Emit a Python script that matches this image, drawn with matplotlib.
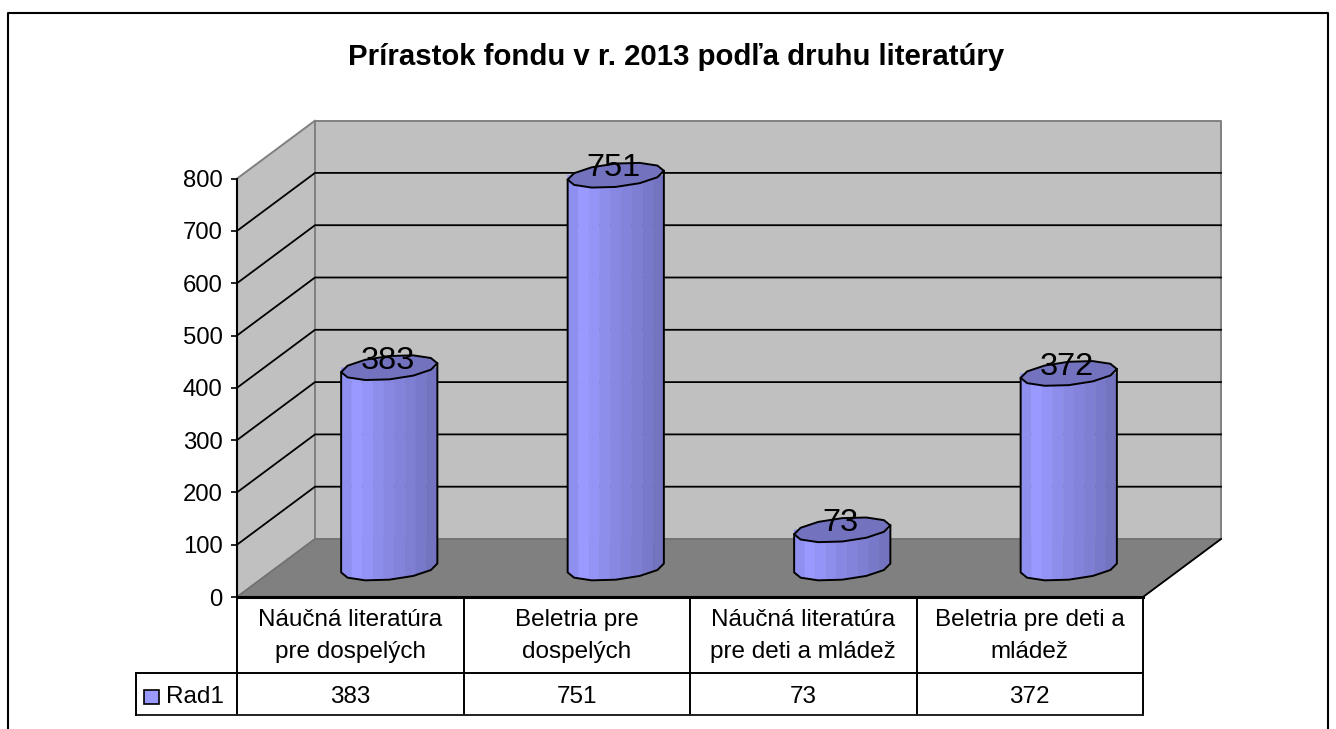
import numpy as np
import matplotlib
matplotlib.use("Agg")
import matplotlib.pyplot as plt
from matplotlib.lines import Line2D
from matplotlib.patches import Polygon, Rectangle

plt.rcParams['font.family'] = ['Liberation Sans', 'DejaVu Sans']

title = "Prírastok fondu v r. 2013 podľa druhu literatúry"
categories = ["Náučná literatúra\npre dospelých", "Beletria pre\ndospelých",
              "Náučná literatúra\npre deti a mládež", "Beletria pre deti a\nmládež"]
values = [383, 751, 73, 372]
series_name = "Rad1"
y_ticks = [0, 100, 200, 300, 400, 500, 600, 700, 800]
facet_colors = ["#8F8FF0", "#9999FF", "#9494F7", "#8D8DEB", "#8888E3",
                "#8383DB", "#7E7ED3", "#7979CA", "#7373C0"]
cap_color = "#7272BF"

W, H = 1336, 729
fig = plt.figure(figsize=(W / 100, H / 100), dpi=100, facecolor="white")
FX0, FX1, FY0, FY1 = 237, 1143, 597, 178.6
ax = fig.add_axes([FX0 / W, 1 - FY0 / H, (FX1 - FX0) / W, (FY0 - FY1) / H])
ax.set_xlim(0, 4)
ax.set_ylim(0, 800)
ax.patch.set_visible(False)
for s in ["top", "right", "bottom", "left"]:
    ax.spines[s].set_visible(False)
ax.set_xticks([])
ax.set_yticks(y_ticks)
ax.tick_params(axis="y", length=4.5, width=1.2, color="black", pad=6, labelsize=17.2)

PX = (FX1 - FX0) / 4          # pixels per category
PY = (FY0 - FY1) / 800        # pixels per value unit
DX, DY = 78 / PX, 58 / PY     # depth vector, data units


def P(x, v, d=0.0):
    return (x + d * DX, v + d * DY)


def table_y(py):
    return (FY0 - py) / PY


def table_x(px):
    return (px - FX0) / PX


def add_poly(pts, fc, ec="none", lw=0, z=1):
    ax.add_patch(Polygon(pts, closed=True, facecolor=fc, edgecolor=ec, linewidth=lw,
                         zorder=z, clip_on=False, joinstyle="round"))


def line(xs, ys, color="black", lw=1.4, z=2):
    ax.add_line(Line2D(xs, ys, color=color, linewidth=lw, zorder=z, clip_on=False,
                       solid_capstyle="projecting"))


vmax = y_ticks[-1]
# walls and floor
add_poly([P(0, 0), P(0, vmax), P(0, vmax, 1), P(0, 0, 1)], "#C0C0C0", "#808080", 1.4, 1)
add_poly([P(0, 0, 1), P(0, vmax, 1), P(4, vmax, 1), P(4, 0, 1)], "#C0C0C0", "#808080", 1.4, 1)
add_poly([P(0, 0), P(4, 0), P(4, 0, 1), P(0, 0, 1)], "#808080", "#707070", 1.0, 1.5)

# gridlines
for v in y_ticks[1:-1]:
    a, b, c = P(0, v), P(0, v, 1), P(4, v, 1)
    line([a[0], b[0], c[0]], [a[1], b[1], c[1]], lw=1.3, z=2)

# cylinders (coarse polygons, tilted by the depth projection)
Rx, Ddx, Ddy = 45 / PX, 17 / PX, 12.5 / PY
N = 12
th0 = np.arctan2(17, 45)
theta = th0 + np.pi + np.arange(N) * 2 * np.pi / N      # start at left extreme
ox = Rx * np.cos(theta) + Ddx * np.sin(theta)
oy = Ddy * np.sin(theta)
half = N // 2
for i, val in enumerate(values):
    cx, c0 = P(i + 0.5, 0, 0.5)
    xs = cx + ox
    ybot = c0 + oy
    ytop = c0 + val + oy
    # body strips, shaded left to right
    fx_front, fy_front = xs[:half + 1], ybot[:half + 1]
    n_strip = len(facet_colors)
    edges = np.linspace(xs[0], xs[half], n_strip + 1)
    for k in range(n_strip):
        sub = np.linspace(edges[k], edges[k + 1], 6)
        low = np.interp(sub, fx_front, fy_front)
        top = np.full_like(sub, c0 + val)
        add_poly(np.r_[np.c_[sub, low], np.c_[sub[::-1], top[::-1]]],
                 facet_colors[k], facet_colors[k], 0.3, 3)
    # silhouette
    fx = np.r_[xs[0], xs[:half + 1], xs[half]]
    fy = np.r_[ytop[0], ybot[:half + 1], ytop[half]]
    line(fx, fy, lw=1.4, z=4)
    add_poly(np.c_[xs, ytop], cap_color, "black", 1.4, 5)
    ax.text(cx - 0.008, c0 + val + 13, str(val), ha="center", va="center",
            fontsize=23.4, color="black", zorder=6, clip_on=False)

# front axis lines
line([0, 0], [0, vmax], lw=1.5, z=7)
line([0, 4], [0, 0], lw=2.2, z=7)
a, b = P(4, 0), P(4, 0, 1)
line([a[0], b[0]], [a[1], b[1]], lw=1.3, z=7)

# data table
r0, r1, r2 = table_y(597), table_y(673), table_y(715)
legend_left = table_x(136)
row2_text = table_y(697)
for k in range(5):
    line([k, k], [r0, r2], lw=1.4, z=7)
line([0, 4], [r1, r1], lw=1.4, z=7)
line([legend_left, 4], [r2, r2], color="#202020", lw=1.4, z=7)
line([legend_left, 0], [r1, r1], lw=1.4, z=7)
line([legend_left, legend_left], [r1, r2], lw=1.4, z=7)
for i, (cat, val) in enumerate(zip(categories, values)):
    ax.text(i + 0.5, table_y(636), cat, ha="center", va="center", fontsize=17.5,
            linespacing=1.55, clip_on=False, zorder=8)
    ax.text(i + 0.5, row2_text, str(val), ha="center", va="center", fontsize=17.5,
            clip_on=False, zorder=8)
ax.add_patch(Rectangle((table_x(143.5), table_y(704)), 15 / PX, 14 / PY,
                       facecolor="#9999FF", edgecolor="black", linewidth=1.2,
                       clip_on=False, zorder=8))
ax.text(table_x(166), row2_text, series_name, ha="left", va="center", fontsize=17.5,
        clip_on=False, zorder=8)

# title and outer frame
fig.text(676 / W, 1 - 57 / H, title, ha="center", va="center", fontsize=21.2, fontweight="bold")
fig.add_artist(Line2D([8 / W, 8 / W, 1328 / W, 1328 / W],
                      [0, 1 - 13 / H, 1 - 13 / H, 0], color="black", linewidth=1.5))

fig.savefig("out.png", dpi=100)
